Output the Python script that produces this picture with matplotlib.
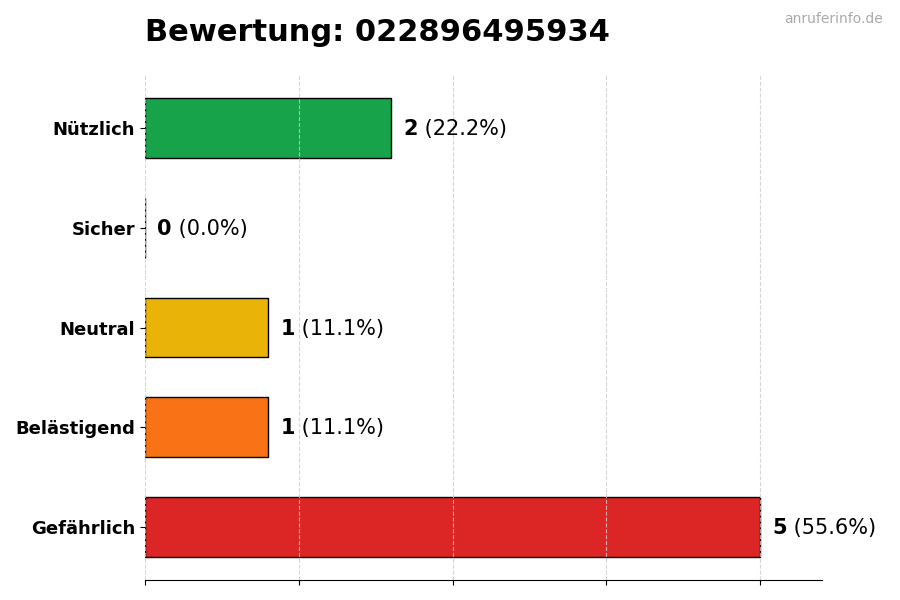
import matplotlib
matplotlib.use("Agg")
import matplotlib.pyplot as plt
import numpy as np

# Data, top to bottom as shown
CATEGORIES = ["Nützlich", "Sicher", "Neutral", "Belästigend", "Gefährlich"]
COUNTS = [2, 0, 1, 1, 5]
COLORS = ["#16a34a", "#6b7280", "#eab308", "#f97316", "#dc2626"]
TITLE = "Bewertung: 022896495934"
WATERMARK = "anruferinfo.de"

total = sum(COUNTS)
n = len(CATEGORIES)
ypos = [n - 1 - i for i in range(n)]

fig = plt.figure(figsize=(9, 6), dpi=100)
ax = fig.add_axes([0.161, 0.0333, 0.752, 0.8417])

ax.barh(ypos, COUNTS, height=0.6, color=COLORS, edgecolor="black", linewidth=1)

ax.set_xlim(0, max(COUNTS) * 1.1)
ax.set_yticks(ypos)
ax.set_yticklabels(CATEGORIES, fontsize=13, fontweight="bold")
ax.set_xticks(np.linspace(0, max(COUNTS), 5))
ax.set_xticklabels([])
ax.grid(axis="x", linestyle="--", color="#cccccc", alpha=0.8, linewidth=0.8)

for side in ["top", "right", "left"]:
    ax.spines[side].set_visible(False)

offset = max(COUNTS) * 0.02
for y, v in zip(ypos, COUNTS):
    pct = v / total * 100 if total else 0
    t = ax.text(v + offset, y - 0.01, f"{v}", fontsize=15, fontweight="bold",
                ha="left", va="center")
    ax.annotate(f" ({pct:.1f}%)", xy=(1, 0), xycoords=t, fontsize=15,
                ha="left", va="bottom")

fig.text(0.161, 0.946, TITLE, fontsize=22, fontweight="bold", ha="left", va="center")
fig.text(0.981, 0.969, WATERMARK, fontsize=10, color="#aaaaaa", ha="right", va="center")

fig.savefig("out.png", dpi=100)
